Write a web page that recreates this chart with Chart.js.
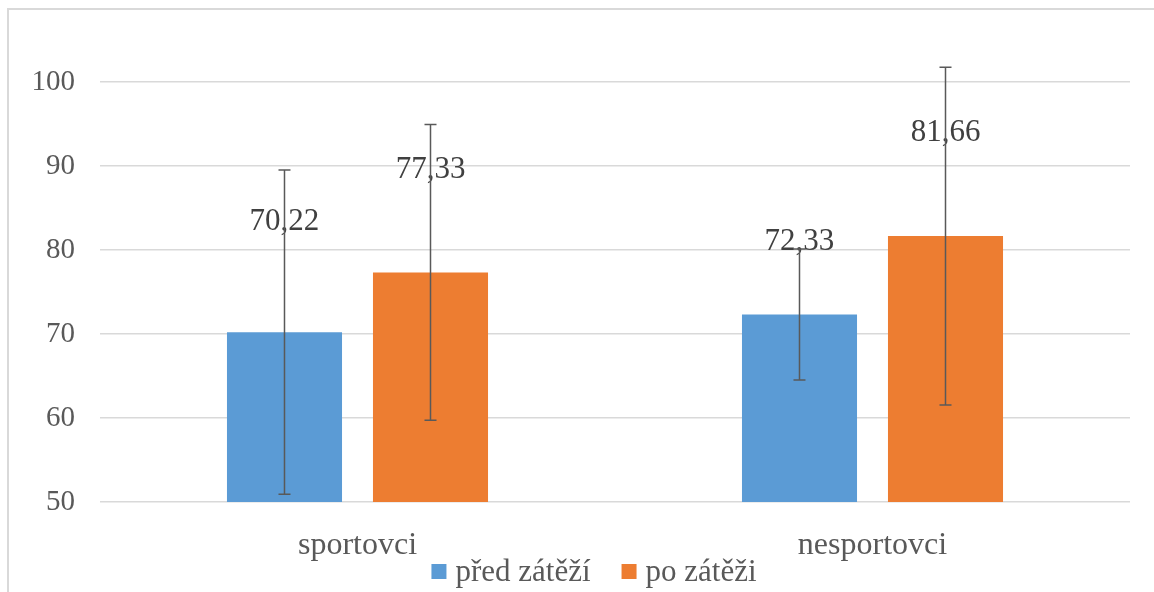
<!DOCTYPE html>
<html>
<head>
<meta charset="utf-8">
<script src="https://cdn.jsdelivr.net/npm/chart.js@4.4.1/dist/chart.umd.min.js"></script>
<style>
  html, body { margin: 0; padding: 0; background: #fff; }
  .frame {
    position: absolute; left: 7px; top: 8px; width: 1147px; height: 584px;
    border-top: 2px solid #d9d9d9; border-left: 2px solid #d9d9d9;
  }
  .wrap { position: absolute; left: 0; top: 0; width: 1154px; height: 592px; }
</style>
</head>
<body>
<div class="frame"></div>
<div class="wrap"><canvas id="barChart"></canvas></div>
<script>
  // ── DATA ──
  const categories = ['sportovci', 'nesportovci'];
  const seriesNames = ['před zátěží', 'po zátěži'];
  const seriesColors = ['#5b9bd5', '#ed7d31'];
  const predValues = [70.22, 72.33];
  const poValues = [77.33, 81.66];
  const predErrors = [19.3, 7.8];
  const poErrors = [17.6, 20.1];
  // where each value label sits (in axis units)
  const predLabelPos = [83.3, 81.0];
  const poLabelPos = [89.5, 94.0];
  const yTicks = [50, 60, 70, 80, 90, 100];

  const serif = "'Liberation Serif', 'Times New Roman', serif";
  Chart.defaults.font.family = serif;
  Chart.defaults.color = '#595959';

  const fmt = v => v.toFixed(2).replace('.', ',');

  // ── ERROR BARS + VALUE LABELS + LEGEND ──
  const extrasPlugin = {
    id: 'extras',
    afterDatasetsDraw(chart) {
      const ctx = chart.ctx;
      const y = chart.scales.y;
      chart.data.datasets.forEach((ds, i) => {
        const meta = chart.getDatasetMeta(i);
        meta.data.forEach((bar, j) => {
          // label
          ctx.save();
          ctx.font = '31px ' + serif;
          ctx.fillStyle = '#404040';
          ctx.textAlign = 'center';
          ctx.textBaseline = 'middle';
          ctx.fillText(fmt(ds.data[j]), bar.x, y.getPixelForValue(ds.labelPos[j]));
          ctx.restore();

          // error bar
          const top = y.getPixelForValue(ds.data[j] + ds.errors[j]);
          const bot = y.getPixelForValue(ds.data[j] - ds.errors[j]);
          ctx.save();
          ctx.strokeStyle = '#595959';
          ctx.lineWidth = 1.5;
          ctx.beginPath();
          ctx.moveTo(bar.x, top); ctx.lineTo(bar.x, bot);
          ctx.moveTo(bar.x - 6, top); ctx.lineTo(bar.x + 6, top);
          ctx.moveTo(bar.x - 6, bot); ctx.lineTo(bar.x + 6, bot);
          ctx.stroke();
          ctx.restore();
        });
      });
    },
    afterDraw(chart) {
      const ctx = chart.ctx;
      ctx.save();
      ctx.font = '31px ' + serif;
      const box = 15, gap = 9, between = 31;
      const widths = seriesNames.map(n => ctx.measureText(n).width);
      const total = widths.reduce((a, w) => a + box + gap + w, 0) + between;
      let x = 594 - total / 2;
      const base = 581;
      seriesNames.forEach((name, i) => {
        ctx.fillStyle = seriesColors[i];
        ctx.fillRect(x, base - 17, box, box);
        ctx.fillStyle = '#595959';
        ctx.textAlign = 'left';
        ctx.textBaseline = 'alphabetic';
        ctx.fillText(name, x + box + gap, base);
        x += box + gap + widths[i] + between;
      });
      ctx.restore();
    }
  };

  // ── BAR CHART ──
  const barCtx = document.getElementById('barChart').getContext('2d');
  new Chart(barCtx, {
    type: 'bar',
    data: {
      labels: categories,
      datasets: [
        {
          label: seriesNames[0],
          data: predValues,
          errors: predErrors,
          labelPos: predLabelPos,
          backgroundColor: seriesColors[0],
          categoryPercentage: 0.567,
          barPercentage: 0.788
        },
        {
          label: seriesNames[1],
          data: poValues,
          errors: poErrors,
          labelPos: poLabelPos,
          backgroundColor: seriesColors[1],
          categoryPercentage: 0.567,
          barPercentage: 0.788
        }
      ]
    },
    options: {
      responsive: true,
      maintainAspectRatio: false,
      animation: false,
      layout: { padding: { top: 82, right: 24, left: 0, bottom: 0 } },
      plugins: {
        legend: { display: false },
        tooltip: { enabled: false }
      },
      scales: {
        x: {
          grid: { display: false, drawTicks: false },
          border: { display: false },
          ticks: { font: { size: 32 }, color: '#595959', padding: 24 },
          afterFit: s => { s.height = 90; }
        },
        y: {
          min: 50, max: 100,
          afterBuildTicks: s => { s.ticks = yTicks.map(v => ({ value: v })); },
          grid: { color: '#d9d9d9', lineWidth: 1.5, drawTicks: false },
          border: { display: false },
          ticks: { font: { size: 29 }, color: '#595959', padding: 25 },
          afterFit: s => { s.width = 100; }
        }
      }
    },
    plugins: [extrasPlugin]
  });
</script>
</body>
</html>
